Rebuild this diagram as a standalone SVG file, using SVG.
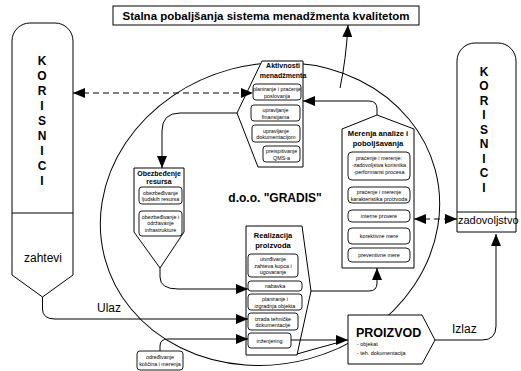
<svg xmlns="http://www.w3.org/2000/svg" width="521" height="371" viewBox="0 0 521 371">
<style>
text{font-family:"Liberation Sans",Arial,sans-serif;fill:#000}
.box{fill:#fff;stroke:#000;stroke-width:1}
.item{fill:#fff;stroke:#000;stroke-width:0.9}
.it{font-size:5.4px;text-anchor:middle}
.ttl{font-size:7px;font-weight:bold;text-anchor:middle}
.big{font-size:12px;font-weight:bold;text-anchor:middle}
.lbl{font-size:12px}
.ln{fill:none;stroke:#000;stroke-width:1}
.dash{fill:none;stroke:#000;stroke-width:1;stroke-dasharray:6,4}
</style>
<defs>
<marker id="ah" markerUnits="userSpaceOnUse" markerWidth="12" markerHeight="10" refX="12" refY="5" orient="auto-start-reverse">
<path d="M0,0 L12,5 L0,10 Z" fill="#000"/>
</marker>
</defs>
<ellipse id="org" cx="270" cy="214" rx="171" ry="150" transform="rotate(-15 270 214)" fill="none" stroke="#000" stroke-width="1"/>
<text x="275" y="202" class="big">d.o.o. "GRADIS"</text>
<g id="title">
<rect x="113" y="6" width="306" height="19" class="box"/>
<text x="266" y="20" class="big" style="font-size:11.5px">Stalna pobaljšanja sistema menadžmenta kvalitetom</text>
</g>
<g id="korisnici-left">
<path d="M12,275 V41 A18,18 0 0 1 30,23 H55 A18,18 0 0 1 73,41 V275 L42.5,297 Z" class="box"/>
<line x1="12" y1="213" x2="73" y2="213" stroke="#000"/>
<g class="big">
<text x="42" y="64.5">K</text><text x="42" y="79.5">O</text><text x="42" y="94.5">R</text><text x="42" y="109.5">I</text><text x="42" y="124.5">S</text><text x="42" y="139.5">N</text><text x="42" y="154.5">I</text><text x="42" y="169.5">C</text><text x="42" y="184.5">I</text>
</g>
<text x="43" y="262" class="lbl" text-anchor="middle">zahtevi</text>
</g>
<g id="korisnici-right">
<path d="M457,232 V61 A18,18 0 0 1 475,43 H498 A18,18 0 0 1 516,61 V232 Z" class="box"/>
<line x1="457" y1="212" x2="516" y2="212" stroke="#000"/>
<g class="big">
<text x="484" y="75.5">K</text><text x="484" y="90">O</text><text x="484" y="104.5">R</text><text x="484" y="119">I</text><text x="484" y="133.5">S</text><text x="484" y="148">N</text><text x="484" y="162.5">I</text><text x="484" y="177">C</text><text x="484" y="191.5">I</text>
</g>
<text x="458" y="224" class="lbl" style="font-size:11px">zadovoljstvo</text>
</g>
<g id="aktivnosti">
<polygon points="262,61 303,61 303,167 258,167 237,113" class="box"/>
<text x="283" y="68" class="ttl">Aktivnosti</text>
<text x="283" y="78" class="ttl">menadžmenta</text>
<rect x="253" y="84" width="48" height="16" rx="3" class="item"/>
<text x="277" y="91" class="it">planiranje i praćenje</text><text x="277" y="97.5" class="it">poslovanja</text>
<rect x="251" y="105" width="49" height="16" rx="3" class="item"/>
<text x="275.5" y="112" class="it">upravljanje</text><text x="275.5" y="118.5" class="it">finansijama</text>
<rect x="252" y="125" width="48" height="17" rx="3" class="item"/>
<text x="276" y="132.5" class="it">upravljanje</text><text x="276" y="139" class="it">dokumentacijom</text>
<rect x="263" y="146" width="37" height="16" rx="3" class="item"/>
<text x="281.5" y="153" class="it">preispitivanje</text><text x="281.5" y="159.5" class="it">QMS-a</text>
</g>
<g id="obezbedjenje">
<polygon points="134,168 184,168 184,232 160,268 134,232" class="box"/>
<text x="159" y="176" class="ttl">Obezbeđenje</text>
<text x="159" y="184" class="ttl">resursa</text>
<rect x="139" y="187" width="43" height="17" rx="3" class="item"/>
<text x="160.5" y="194.5" class="it">obezbeđivanje</text><text x="160.5" y="201" class="it">ljudskih resursa</text>
<rect x="139" y="211" width="43" height="25" rx="3" class="item"/>
<text x="160.5" y="218.5" class="it">obezbeđivanje i</text><text x="160.5" y="225" class="it">održavanje</text><text x="160.5" y="231.5" class="it">infrastrukture</text>
</g>
<g id="realizacija">
<polygon points="246,226 302,226 311,291 297,355 246,355" class="box"/>
<text x="273" y="238" class="ttl" style="font-size:7.5px">Realizacija</text>
<text x="273" y="248" class="ttl" style="font-size:7.5px">proizvoda</text>
<rect x="248" y="254" width="50" height="23" rx="3" class="item"/>
<text x="273" y="261" class="it">utvrđivanje</text><text x="273" y="267.5" class="it">zahteva kupca i</text><text x="273" y="274" class="it">ugovaranje</text>
<rect x="248" y="281" width="54" height="10" rx="3" class="item"/>
<text x="275" y="288" class="it">nabavka</text>
<rect x="248" y="294" width="54" height="16" rx="3" class="item"/>
<text x="275" y="301" class="it">planiranje i</text><text x="275" y="307.5" class="it">izgradnja objekta</text>
<rect x="248" y="313" width="50" height="17" rx="3" class="item"/>
<text x="273" y="320.5" class="it">izrada tehničke</text><text x="273" y="327" class="it">dokumentacije</text>
<rect x="248" y="333" width="43" height="15" rx="3" class="item"/>
<text x="269.5" y="342.5" class="it">inženjering</text>
</g>
<g id="merenja">
<polygon points="342,129 377,115 414,129 414,268 342,268" class="box"/>
<text x="378" y="136" class="ttl" style="font-size:7.6px">Merenja analize i</text>
<text x="378" y="146" class="ttl" style="font-size:7.6px">poboljšavanja</text>
<rect x="348" y="152" width="62" height="28" rx="4" class="item"/>
<text x="379" y="160" class="it">praćenje i merenje:</text><text x="379" y="167" class="it">-zadovoljstva korisnika</text><text x="379" y="174" class="it">-performansi procesa</text>
<rect x="348" y="187" width="62" height="16" rx="4" class="item"/>
<text x="379" y="194" class="it">praćenje i merenje</text><text x="379" y="200.5" class="it">karakteristika proizvoda</text>
<rect x="348" y="210" width="62" height="12" rx="4" class="item"/>
<text x="379" y="218" class="it">interne provere</text>
<rect x="348" y="228" width="62" height="16" rx="4" class="item"/>
<text x="379" y="238" class="it">korektivne mere</text>
<rect x="348" y="248" width="62" height="14" rx="4" class="item"/>
<text x="379" y="257" class="it">preventivne mere</text>
</g>
<g id="proizvod">
<polygon points="348,315 422,315 435,340 422,364 348,364" class="box"/>
<text x="356" y="337" style="font-size:12.5px;font-weight:bold">PROIZVOD</text>
<text x="357" y="346" class="it" style="text-anchor:start">- objekat</text>
<text x="357" y="355" class="it" style="text-anchor:start">- teh. dokumentacija</text>
</g>
<g id="odredjivanje">
<rect x="137" y="351" width="46" height="19" rx="3" class="item"/>
<text x="160" y="359" class="it">određivanje</text><text x="160" y="366" class="it">količina i merenja</text>
</g>
<g id="connectors">
<path d="M73,93 H253" class="dash" marker-start="url(#ah)" marker-end="url(#ah)"/>
<path d="M414,219 H457" class="dash" marker-start="url(#ah)" marker-end="url(#ah)"/>
<path d="M377,115 V109 Q377,101 369,101 H303" class="ln" marker-end="url(#ah)"/>
<path d="M340,88 Q346,60 348,25" class="ln" marker-end="url(#ah)"/>
<path d="M237,113 H180 Q162,113 162,131 V168" class="ln" marker-end="url(#ah)"/>
<path d="M160,268 V277 Q160,289 178,289 H248" class="ln" marker-end="url(#ah)"/>
<path d="M42.5,297 V309 Q42.5,319 55,319 H248" class="ln" marker-end="url(#ah)"/>
<path d="M160,351 V346 Q160,339 168,339 H248" class="ln" marker-end="url(#ah)"/>
<path d="M291,340 H348" class="ln" marker-end="url(#ah)"/>
<path d="M297,354 Q318,348 340,342" class="ln"/>
<path d="M311,291 H369 Q377,291 377,283 V268" class="ln" marker-end="url(#ah)"/>
<path d="M435,340 H482 Q496,340 496,326 V234" class="ln" marker-end="url(#ah)"/>
<text x="97" y="312" class="lbl">Ulaz</text>
<text x="452" y="333" class="lbl">Izlaz</text>
</g>
</svg>
